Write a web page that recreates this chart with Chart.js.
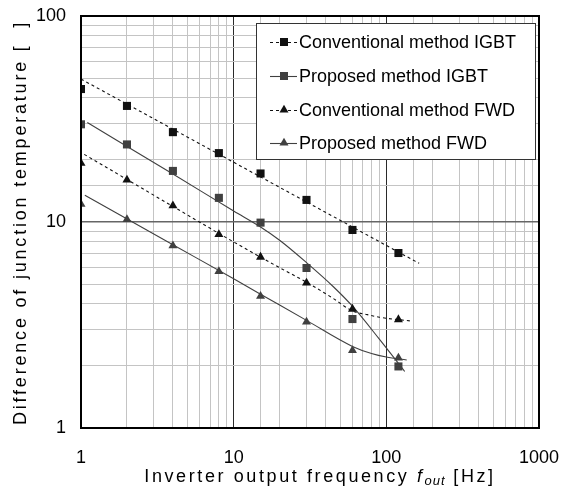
<!DOCTYPE html>
<html>
<head>
<meta charset="utf-8">
<script src="https://cdn.jsdelivr.net/npm/chart.js@4.4.1/dist/chart.umd.min.js"></script>
<style>
  html, body { margin: 0; padding: 0; background: #fff; }
  canvas { display: block; }
</style>
</head>
<body>
<canvas id="c" width="568" height="486"></canvas>
<script>
// measured points (inverter output frequency, Hz)
const freqs = [1, 2, 4, 8, 15, 30, 60, 120];
const convIgbt = [44.2, 36.6, 27.3, 21.6, 17.2, 12.8, 9.15, 7.07];
const propIgbt = [29.8, 23.8, 17.7, 13.1, 9.93, 5.98, 3.38, 1.99];
const convFwd = [19.3, 16.0, 12.0, 8.71, 6.76, 5.06, 3.78, 3.36];
const propFwd = [12.2, 10.3, 7.67, 5.76, 4.36, 3.27, 2.38, 2.19];

// trend lines
const convIgbtFitX = [1, 164];
const convIgbtFitY = [49.4, 6.3];
const propIgbtFitX = [1.1, 4, 10, 15, 20, 30, 45, 60, 90, 132];
const propIgbtFitY = [30.4, 17.1, 11.3, 9.45, 8.15, 6.35, 4.85, 3.9, 2.7, 1.88];
const convFwdFitX = [1.05, 4, 10, 20, 30, 45, 60, 75, 90, 143];
const convFwdFitY = [21.3, 11.9, 8.0, 6.0, 5.1, 4.25, 3.7, 3.55, 3.45, 3.31];
const propFwdFitX = [1.06, 4, 10, 20, 30, 60, 80, 100, 136];
const propFwdFitY = [13.5, 7.76, 5.3, 3.95, 3.33, 2.49, 2.3, 2.21, 2.14];

const seriesNames = ["Conventional method IGBT", "Proposed method IGBT", "Conventional method FWD", "Proposed method FWD"];
const xTicks = [1, 10, 100, 1000];
const yTicks = [1, 10, 100];

const FONT = "'Liberation Sans', Arial, sans-serif";
const black = "#111", grey = "#404040";
const styles = [
  { color: black, shape: "rect", dash: [3, 3], r: 5.7 },
  { color: grey, shape: "rect", dash: [], r: 5.7 },
  { color: black, shape: "triangle", dash: [3, 3], r: 5.2 },
  { color: grey, shape: "triangle", dash: [], r: 5.2 },
];

const pts = (xs, ys) => xs.map((x, i) => ({ x, y: ys[i] }));
const markerSets = [convIgbt, propIgbt, convFwd, propFwd].map((ys, i) => ({
  label: seriesNames[i],
  data: pts(freqs, ys),
  showLine: false,
  pointStyle: styles[i].shape,
  pointRadius: styles[i].r,
  pointBackgroundColor: styles[i].color,
  pointBorderColor: styles[i].color,
  pointBorderWidth: 0,
}));
const fits = [[convIgbtFitX, convIgbtFitY], [propIgbtFitX, propIgbtFitY], [convFwdFitX, convFwdFitY], [propFwdFitX, propFwdFitY]];
const lineSets = fits.map(([xs, ys], i) => ({
  label: seriesNames[i] + " fit",
  data: pts(xs, ys),
  showLine: true,
  pointRadius: 0,
  borderColor: styles[i].color,
  borderWidth: 1.1,
  borderDash: styles[i].dash,
  cubicInterpolationMode: "monotone",
}));

const isDecade = (v) => Math.abs(Math.log10(v) - Math.round(Math.log10(v))) < 1e-9;

function marker(ctx, shape, x, y, r, color) {
  ctx.fillStyle = color;
  ctx.beginPath();
  if (shape === "rect") {
    const s = r * Math.SQRT1_2;
    ctx.rect(x - s, y - s, 2 * s, 2 * s);
  } else {
    ctx.moveTo(x, y - r);
    ctx.lineTo(x + r * 0.866, y + r * 0.5);
    ctx.lineTo(x - r * 0.866, y + r * 0.5);
    ctx.closePath();
  }
  ctx.fill();
}

const frameAndLegend = {
  id: "frameAndLegend",
  afterDatasetsDraw(chart) {
    const { ctx, chartArea: a } = chart;
    ctx.save();
    // frame
    ctx.strokeStyle = "#000";
    ctx.lineWidth = 2;
    ctx.strokeRect(a.left, a.top, a.right - a.left, a.bottom - a.top);
    // legend box
    const bx = 256, by = 23, bw = 279, bh = 136;
    ctx.fillStyle = "#fff";
    ctx.fillRect(bx, by, bw, bh);
    ctx.strokeStyle = "#333";
    ctx.lineWidth = 1;
    ctx.strokeRect(bx + 0.5, by + 0.5, bw, bh);
    const rows = [42, 76, 110, 143];
    ctx.font = "18px " + FONT;
    ctx.textBaseline = "middle";
    seriesNames.forEach((name, i) => {
      const st = styles[i], y = rows[i];
      ctx.strokeStyle = st.color;
      ctx.lineWidth = 1.1;
      ctx.setLineDash(st.dash);
      ctx.beginPath();
      ctx.moveTo(270, y + 0.5);
      ctx.lineTo(297, y + 0.5);
      ctx.stroke();
      ctx.setLineDash([]);
      marker(ctx, st.shape, 284, y, st.r, st.color);
      ctx.fillStyle = "#000";
      ctx.fillText(name, 299, y + 1);
    });
    // y axis title, anchored at its lower end
    ctx.save();
    ctx.translate(21, 425);
    ctx.rotate(-Math.PI / 2);
    ctx.textAlign = "left";
    ctx.letterSpacing = "2.8px";
    ctx.fillStyle = "#000";
    ctx.fillText("Difference of junction temperature [  ]", 0, 0);
    ctx.restore();
    // x axis title with italic subscript
    ctx.fillStyle = "#000";
    const p1 = "Inverter output frequency ", p2 = "f", p3 = "out", p4 = " [Hz]";
    const sp = "2.6px";
    ctx.letterSpacing = sp;
    ctx.font = "18px " + FONT;
    const w1 = ctx.measureText(p1).width, w4 = ctx.measureText(p4).width;
    ctx.font = "italic 18px " + FONT;
    const w2 = ctx.measureText(p2).width;
    ctx.font = "italic 13px " + FONT;
    ctx.letterSpacing = "1px";
    const w3 = ctx.measureText(p3).width;
    let x = 320 - (w1 + w2 + w3 + w4) / 2;
    const ty = 477;
    ctx.letterSpacing = sp;
    ctx.font = "18px " + FONT;
    ctx.fillText(p1, x, ty); x += w1;
    ctx.font = "italic 18px " + FONT;
    ctx.fillText(p2, x, ty); x += w2;
    ctx.font = "italic 13px " + FONT;
    ctx.letterSpacing = "1px";
    ctx.fillText(p3, x, ty + 4); x += w3;
    ctx.letterSpacing = sp;
    ctx.font = "18px " + FONT;
    ctx.fillText(p4, x, ty);
    ctx.restore();
  },
};

new Chart(document.getElementById("c"), {
  type: "scatter",
  data: { datasets: [...markerSets, ...lineSets] },
  options: {
    responsive: false,
    animation: false,
    layout: { padding: { top: 16, right: 29, left: 0, bottom: 0 } },
    plugins: { legend: { display: false }, tooltip: { enabled: false } },
    scales: {
      x: {
        type: "logarithmic",
        min: 1, max: 1000,
        afterFit: (s) => { s.height = 58; s.paddingLeft = 0; s.paddingRight = 0; },
        grid: {
          drawTicks: false,
          color: (c) => (isDecade(c.tick.value) ? "#2a2a2a" : "#c4c4c4"),
          lineWidth: 1,
        },
        border: { color: "#000", width: 2 },
        ticks: {
          autoSkip: false, maxRotation: 0, padding: 19,
          color: "#000", font: { size: 18, family: FONT },
          callback: (v) => (xTicks.includes(v) ? String(v) : ""),
        },
      },
      y: {
        type: "logarithmic",
        min: 1, max: 100,
        afterFit: (s) => { s.width = 81; s.paddingTop = 0; s.paddingBottom = 0; },
        grid: {
          drawTicks: false,
          color: (c) => (isDecade(c.tick.value) ? "#666" : "#c4c4c4"),
          lineWidth: (c) => (isDecade(c.tick.value) ? 1.6 : 1),
        },
        border: { color: "#000", width: 2 },
        ticks: {
          autoSkip: false, padding: 15,
          color: "#000", font: { size: 18, family: FONT },
          callback: (v) => (yTicks.includes(v) ? String(v) : ""),
        },
      },
    },
  },
  plugins: [frameAndLegend],
});
</script>
</body>
</html>
